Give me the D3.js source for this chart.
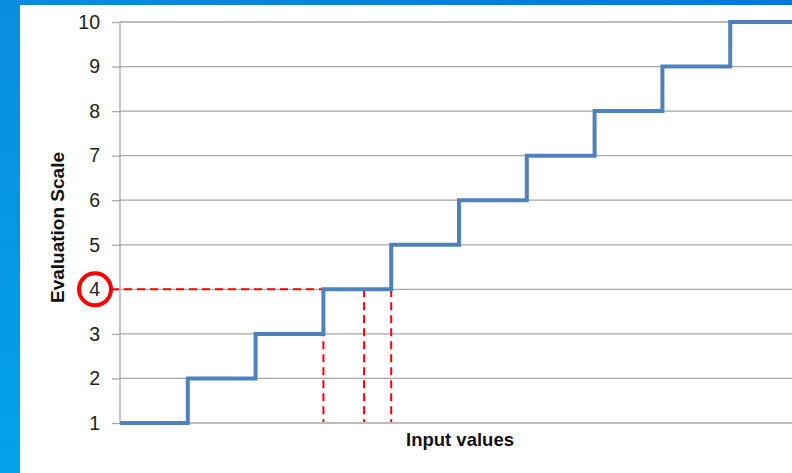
<!DOCTYPE html>
<html>
<head>
<meta charset="utf-8">
<script src="https://cdn.jsdelivr.net/npm/d3@7"></script>
<style>
  html, body { margin: 0; padding: 0; background: #fff; }
  svg { display: block; }
</style>
</head>
<body>
<svg id="chart" width="792" height="473"></svg>
<script>
// ---- data ----
const inputBreaks = [0, 1, 2, 3, 4, 5, 6, 7, 8, 9];
const scaleValues = [1, 2, 3, 4, 5, 6, 7, 8, 9, 10];
const inputMax = 10;
const yTicks = [1, 2, 3, 4, 5, 6, 7, 8, 9, 10];
const markerInputs = [3, 3.6, 4];
const markerLevel = 4;
const yTitle = "Evaluation Scale";
const xTitle = "Input values";

// ---- layout ----
const W = 792, H = 473;
const svg = d3.select("#chart");

// blue frame
const defs = svg.append("defs");
const g1 = defs.append("linearGradient").attr("id", "leftGrad")
  .attr("x1", 0).attr("y1", 0).attr("x2", 0).attr("y2", 1);
g1.append("stop").attr("offset", "0%").attr("stop-color", "#0a8ddf");
g1.append("stop").attr("offset", "100%").attr("stop-color", "#03a2e9");
const g2 = defs.append("linearGradient").attr("id", "topGrad")
  .attr("x1", 0).attr("y1", 0).attr("x2", 1).attr("y2", 0);
g2.append("stop").attr("offset", "0%").attr("stop-color", "#0a8ddf");
g2.append("stop").attr("offset", "100%").attr("stop-color", "#0078dc");

svg.append("rect").attr("x", 0).attr("y", 0).attr("width", W).attr("height", 5).attr("fill", "url(#topGrad)");
svg.append("rect").attr("x", 0).attr("y", 0).attr("width", 20).attr("height", H).attr("fill", "url(#leftGrad)");

const x = d3.scaleLinear().domain([0, inputMax]).range([120, 798]);
const y = d3.scaleLinear().domain([1, 10]).range([423, 22]);

const gridColor = "#a6a6a6";

// gridlines + ticks
const yAxis = d3.axisLeft(y).tickValues(yTicks).tickSize(8).tickPadding(12).tickFormat(d3.format("d"));
const ga = svg.append("g").attr("transform", `translate(${x(0)},0)`).call(yAxis);
ga.select(".domain").remove();
ga.selectAll(".tick line").attr("stroke", gridColor).attr("stroke-width", 1.3);
ga.selectAll(".tick text")
  .attr("font-family", "'Liberation Sans', Arial, sans-serif")
  .attr("font-size", 19.5).attr("fill", "#222");

svg.append("g").selectAll("line").data(yTicks).join("line")
  .attr("x1", x(0)).attr("x2", W)
  .attr("y1", d => y(d)).attr("y2", d => y(d))
  .attr("stroke", gridColor).attr("stroke-width", 1.3);

// vertical axis line
svg.append("line").attr("x1", x(0)).attr("x2", x(0))
  .attr("y1", y(10)).attr("y2", y(1))
  .attr("stroke", gridColor).attr("stroke-width", 1.3);

// step line
const pts = inputBreaks.map((b, i) => [b, scaleValues[i]]);
pts.push([inputMax, scaleValues[scaleValues.length - 1]]);
const line = d3.line().x(d => x(d[0])).y(d => y(d[1])).curve(d3.curveStepAfter);

// dashed red guides
const red = "#ff0000";
svg.append("line")
  .attr("x1", 111).attr("x2", x(markerInputs[0]))
  .attr("y1", y(markerLevel)).attr("y2", y(markerLevel))
  .attr("stroke", red).attr("stroke-width", 2).attr("stroke-dasharray", "8,5");
svg.append("g").selectAll("line").data(markerInputs).join("line")
  .attr("x1", d => x(d)).attr("x2", d => x(d))
  .attr("y1", y(markerLevel)).attr("y2", y(1) - 1)
  .attr("stroke", red).attr("stroke-width", 2).attr("stroke-dasharray", "8,5");

svg.append("path").datum(pts).attr("d", line)
  .attr("fill", "none").attr("stroke", "#4f81bd").attr("stroke-width", 4)
  .attr("stroke-linejoin", "miter");

// red circle around tick 4
svg.append("circle").attr("cx", 95).attr("cy", y(markerLevel)).attr("r", 16)
  .attr("fill", "none").attr("stroke", red).attr("stroke-width", 4);

// titles
svg.append("text")
  .attr("transform", `translate(64,${(y(10) + y(1)) / 2 + 5}) rotate(-90)`)
  .attr("text-anchor", "middle")
  .attr("font-family", "'Liberation Sans', Arial, sans-serif")
  .attr("font-weight", "bold").attr("font-size", 19).attr("fill", "#111")
  .text(yTitle);

svg.append("text")
  .attr("x", 460).attr("y", 446)
  .attr("text-anchor", "middle")
  .attr("font-family", "'Liberation Sans', Arial, sans-serif")
  .attr("font-weight", "bold").attr("font-size", 18.5).attr("fill", "#111")
  .text(xTitle);
</script>
</body>
</html>
